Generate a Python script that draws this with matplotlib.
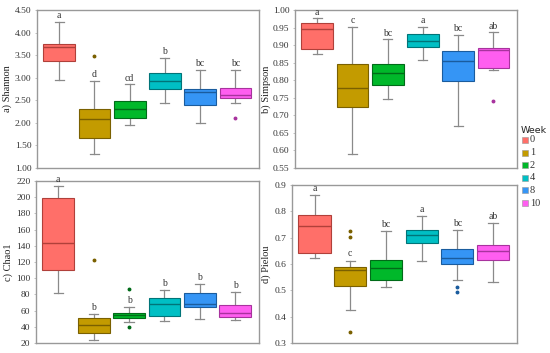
import matplotlib
matplotlib.use("Agg")
import matplotlib.pyplot as plt
from matplotlib.patches import Rectangle
import numpy as np

weeks = ["0", "1", "2", "4", "8", "10"]
fills = ["#FF6F69", "#C39B00", "#00B82A", "#00BFC4", "#3595F5", "#FF5EF0"]
edges = ["#B0403A", "#7A6000", "#006B18", "#007478", "#1A5C9E", "#A8339E"]

# stats: low whisker, Q1, median, Q3, high whisker
shannon_low = [2.94, 1.32, 1.96, 2.44, 1.99, 2.45]
shannon_q1 = [3.38, 1.67, 2.10, 2.74, 2.40, 2.54]
shannon_med = [3.67, 2.09, 2.30, 2.92, 2.68, 2.62]
shannon_q3 = [3.74, 2.31, 2.48, 3.10, 2.76, 2.78]
shannon_high = [4.24, 2.93, 2.85, 3.44, 3.17, 3.17]
shannon_out = [[], [3.48], [], [], [], [2.10]]
shannon_letters = ["a", "d", "cd", "b", "bc", "bc"]

simpson_low = [0.874, 0.591, 0.747, 0.859, 0.671, 0.830]
simpson_q1 = [0.889, 0.723, 0.785, 0.894, 0.799, 0.836]
simpson_med = [0.945, 0.778, 0.821, 0.911, 0.856, 0.886]
simpson_q3 = [0.962, 0.845, 0.845, 0.932, 0.882, 0.893]
simpson_high = [0.976, 0.953, 0.916, 0.951, 0.930, 0.936]
simpson_out = [[], [], [], [], [], [0.742]]
simpson_letters = ["a", "c", "bc", "a", "bc", "ab"]

chao_low = [82, 24, 45.4, 47.5, 49.6, 48.7]
chao_q1 = [110, 32, 50.4, 53, 64, 51.7]
chao_med = [143, 42.4, 54.7, 68.6, 67.8, 57.2]
chao_q3 = [199, 51.3, 57, 76, 81.3, 67.4]
chao_high = [214, 55.5, 65, 85.5, 93, 83.4]
chao_out = [[], [122], [87, 40], [], [], []]
chao_letters = ["a", "b", "b", "b", "b", "b"]

pielou_low = [0.623, 0.427, 0.511, 0.612, 0.541, 0.532]
pielou_q1 = [0.640, 0.517, 0.538, 0.681, 0.599, 0.615]
pielou_med = [0.743, 0.579, 0.583, 0.710, 0.623, 0.651]
pielou_q3 = [0.785, 0.589, 0.615, 0.730, 0.658, 0.673]
pielou_high = [0.861, 0.613, 0.724, 0.781, 0.730, 0.755]
pielou_out = [[], [0.726, 0.702, 0.342], [], [], [0.511, 0.493], []]
pielou_letters = ["a", "c", "bc", "a", "bc", "ab"]

serif = "Liberation Serif"
plt.rcParams["font.family"] = serif

fig = plt.figure(figsize=(5.5, 3.53), dpi=100)

def make_ax(l, r, t, b):
    return fig.add_axes([l / 550, 1 - b / 353, (r - l) / 550, (b - t) / 353])

def panel(ax, low, q1, med, q3, high, out, letters, ylim, yticks, fmt, label, off, labx):
    stats = []
    for i in range(len(weeks)):
        stats.append(dict(whislo=low[i], q1=q1[i], med=med[i], q3=q3[i],
                          whishi=high[i], fliers=out[i]))
    pos = np.arange(len(weeks))
    res = ax.bxp(stats, positions=pos, widths=0.9, patch_artist=True,
                 showfliers=True, showcaps=True)
    for i, b in enumerate(res["boxes"]):
        b.set_facecolor(fills[i])
        b.set_edgecolor(edges[i])
        b.set_linewidth(0.8)
        b.set_zorder(3)
    for i, m in enumerate(res["medians"]):
        m.set_color(edges[i])
        m.set_linewidth(1.0)
        m.set_zorder(4)
    for w in res["whiskers"]:
        w.set_color("#8a8a8a")
        w.set_linewidth(0.9)
    for i, c in enumerate(res["caps"]):
        c.set_color("#8a8a8a")
        c.set_linewidth(0.9)
        c.set_xdata(np.array([-0.13, 0.13]) + pos[i // 2])
    for i, f in enumerate(res["fliers"]):
        f.set_marker("o")
        f.set_markersize(1.8)
        f.set_markerfacecolor(edges[i])
        f.set_markeredgecolor(edges[i])
    for i in range(len(weeks)):
        ax.text(pos[i], high[i] + off, letters[i], ha="center", va="bottom",
                fontsize=7, color="#333333")
    ax.set_xlim(-0.63, 5.67)
    ax.set_ylim(*ylim)
    ax.set_yticks(yticks)
    ax.set_yticklabels([fmt.format(v) for v in yticks], fontsize=6.8, color="#333333")
    ax.set_xticks([])
    ax.tick_params(axis="y", length=1.5, width=0.5, color="#aaaaaa", pad=2.5)
    for s in ax.spines.values():
        s.set_color("#999999")
        s.set_linewidth(1.0)
    ax.set_ylabel(label, fontsize=7.5, color="#222222")
    ax.yaxis.set_label_coords(labx, 0.5)

ax_a = make_ax(37, 259, 10, 168)
panel(ax_a, shannon_low, shannon_q1, shannon_med, shannon_q3, shannon_high,
      shannon_out, shannon_letters, (1.0, 4.5), np.arange(1.0, 4.51, 0.5),
      "{:.2f}", "a) Shannon", 0.04, -0.113)

ax_b = make_ax(295, 517, 10, 168)
panel(ax_b, simpson_low, simpson_q1, simpson_med, simpson_q3, simpson_high,
      simpson_out, simpson_letters, (0.55, 1.0), np.arange(0.55, 1.001, 0.05),
      "{:.2f}", "b) Simpson", 0.005, -0.108)

ax_c = make_ax(36, 259, 181, 343)
panel(ax_c, chao_low, chao_q1, chao_med, chao_q3, chao_high,
      chao_out, chao_letters, (20, 220), np.arange(20, 221, 20),
      "{:.0f}", "c) Chao1", 2.5, -0.103)

ax_d = make_ax(292, 517, 185, 343)
panel(ax_d, pielou_low, pielou_q1, pielou_med, pielou_q3, pielou_high,
      pielou_out, pielou_letters, (0.3, 0.9), np.arange(0.3, 0.901, 0.1),
      "{:.1f}", "d) Pielou", 0.008, -0.093)

# legend
fig.text(521 / 550, 1 - 130 / 353, "Week", fontsize=6.8, family="DejaVu Sans",
         color="#222222", ha="left", va="center")
for i, w in enumerate(weeks):
    yc = 140 + i * 12.6
    fig.patches.append(Rectangle(((522) / 550, 1 - (yc + 3) / 353), 6 / 550, 6 / 353,
                                 transform=fig.transFigure, facecolor=fills[i],
                                 edgecolor="#999999", linewidth=0.4))
    fig.text(530 / 550, 1 - yc / 353, w, fontsize=7.5, color="#333333",
             ha="left", va="center")

fig.savefig("out.png", dpi=100)
